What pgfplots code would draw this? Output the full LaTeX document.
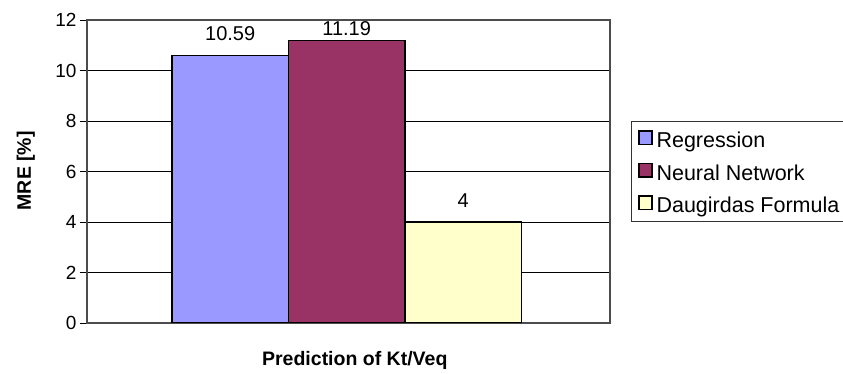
\documentclass[border=0pt]{standalone}
\usepackage{pgfplots}
\pgfplotsset{compat=1.18}
\usepackage{fontspec}
\setmainfont{Liberation Sans}
\definecolor{regc}{HTML}{9999FF}
\definecolor{nnc}{HTML}{993366}
\definecolor{dfc}{HTML}{FFFFCC}
\begin{document}
\begin{tikzpicture}
\path[use as bounding box] (-87bp,-51bp) rectangle (756bp,323bp);
\begin{axis}[
  at={(0,0)}, anchor=south west,
  scale only axis, width=523bp, height=303bp,
  xmin=87, xmax=610, ymin=0, ymax=12,
  ytick={0,2,...,12}, xtick=\empty,
  ytick pos=left, tick align=outside,
  major tick length=7bp,
  ytick style={black, line width=0.8pt},
  ymajorgrids, grid style={black, line width=0.7pt},
  axis line style={draw=gray!90, line width=1.6pt},
  y axis line style={draw=black!70},
  /pgf/number format/assume math mode=true,
  tick label style={font=\fontsize{19bp}{23bp}\selectfont},
  xlabel={\bfseries Prediction of Kt/Veq},
  xlabel style={font=\fontsize{19.5bp}{24bp}\selectfont, at={(axis description cs:0.512,-0.1419)}, anchor=base},
  ylabel={\bfseries MRE [\%]},
  ylabel style={font=\fontsize{19.5bp}{24bp}\selectfont, at={(axis description cs:-0.1071,0.5026)}, anchor=base},
  legend style={at={(1.0408,0.6677)}, anchor=north west, draw=black!80, line width=1pt,
    font=\fontsize{21.5bp}{25bp}\selectfont, row sep=15bp, column sep=3.5bp,
    inner xsep=6.2bp, inner ysep=9bp,
    nodes={inner sep=0pt, text height=15bp, text depth=0bp},
    cells={anchor=west}},
  legend image code/.code={\draw[#1, line width=1.6pt] (0.8bp,-4.2bp) rectangle (14.2bp,9.2bp);},
  nodes near coords,
  every node near coord/.append style={font=\fontsize{20bp}{24bp}\selectfont, text=black},
]
\addplot[ybar, bar width=116.5, bar shift=0pt, fill=regc, draw=black, line width=1.6pt,
  every node near coord/.append style={yshift=11bp}] coordinates {(230.2,10.59)};
\addlegendentry{Regression}
\addplot[ybar, bar width=116.5, bar shift=0pt, fill=nnc, draw=black, line width=1.6pt,
  every node near coord/.append style={yshift=1bp}] coordinates {(346.7,11.19)};
\addlegendentry{Neural Network}
\addplot[ybar, bar width=116.5, bar shift=0pt, fill=dfc, draw=black, line width=1.6pt,
  every node near coord/.append style={yshift=10bp}] coordinates {(463.2,4)};
\addlegendentry{Daugirdas Formula}
\end{axis}
\end{tikzpicture}
\end{document}
